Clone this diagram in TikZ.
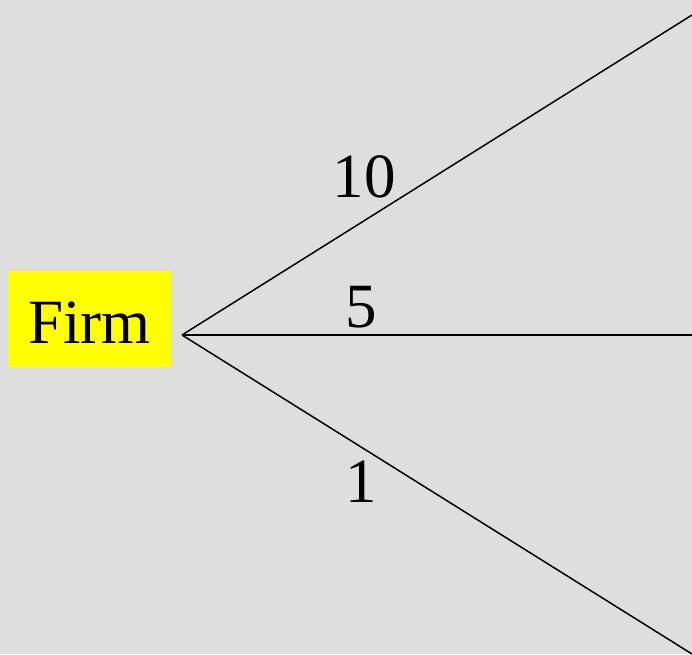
\documentclass[tikz,border=0pt]{standalone}
\usepackage{fontspec}
\setmainfont{Liberation Serif}
\definecolor{bg}{HTML}{DEDEDE}
\definecolor{boxyellow}{RGB}{255,255,0}
\begin{document}
\begin{tikzpicture}[x=1pt,y=1pt,
  lbl/.style={inner sep=0pt,anchor=base,font=\fontsize{63}{70}\selectfont},
  branch/.style={line width=1.5pt,black}]
\fill[bg] (0,0) rectangle (692,654);
\useasboundingbox (0,0) rectangle (692,654);
\node[fill=boxyellow,minimum width=163pt,minimum height=96pt,inner sep=0pt] (firm) at (89.5,335) {};
\node[lbl] (firmtxt) at (89.5,311) {Firm};
\coordinate (apex) at (182,319);
\coordinate (top) at (692,639);
\coordinate (mid) at (692,319);
\coordinate (bot) at (692,0);
\draw[branch] (apex) -- (top);
\draw[branch] (apex) -- (mid);
\draw[branch] (apex) -- (bot);
\node[lbl] (l10) at (364,456) {10};
\node[lbl] (l5) at (361,327) {5};
\node[lbl] (l1) at (361,152) {1};
\end{tikzpicture}
\end{document}
